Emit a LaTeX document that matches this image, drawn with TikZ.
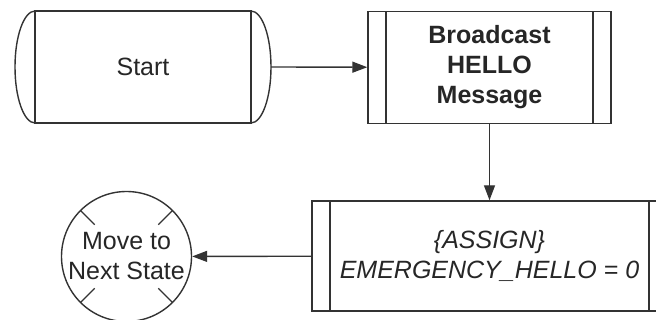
\documentclass[tikz,border=0pt]{standalone}
\usepackage{fontspec}
\setmainfont{Liberation Sans}
\usetikzlibrary{arrows.meta}

\tikzstyle{outline} = [draw=black!80, line width=1.4pt]
\tikzstyle{terminal} = [rectangle, outline, outer sep=0pt, minimum width=216pt, minimum height=112pt, text centered, text=black!85, font=\fontsize{25}{30}\selectfont]
\tikzstyle{process} = [rectangle, outline, minimum height=112pt, align=center, text=black!85, font=\fontsize{25}{30}\selectfont,
	path picture={\draw[outline] ([xshift=18pt]path picture bounding box.north west) -- ([xshift=18pt]path picture bounding box.south west)
		([xshift=-18pt]path picture bounding box.north east) -- ([xshift=-18pt]path picture bounding box.south east);}]
\tikzstyle{connector} = [circle, outline, minimum size=130pt, inner sep=0pt, align=center, text=black!85, font=\fontsize{25}{30}\selectfont,
	path picture={\foreach \a in {45,135,225,315} \draw[outline] (path picture bounding box.center) ++(\a:45pt) -- ++(\a:25pt);}]
\tikzstyle{arrow} = [outline, -{Triangle[length=15pt,width=11pt]}]

\begin{document}
\begin{tikzpicture}[x=1pt, y=1pt]
		\useasboundingbox (0,0) rectangle (656,320);
		\clip (0,0) rectangle (656,320);
		% Nodes
		\node (start) [terminal] at (143,253) {Start};
		\node (broadcast) [process, minimum width=243pt, font=\fontsize{25}{30}\selectfont\bfseries] at (489.5,252.5) {Broadcast\\HELLO\\Message};
		\node (assign) [process, minimum width=355pt, minimum height=110pt, font=\fontsize{25}{30}\selectfont\itshape] at (489.5,64) {\{ASSIGN\}\\EMERGENCY\_HELLO = 0};
		\node (move) [connector] at (126.5,63.5) {Move to\\Next State};
		% Terminal ends
		\draw [outline] (start.north west) arc[start angle=90, end angle=270, x radius=20pt, y radius=56pt];
		\draw [outline] (start.north east) arc[start angle=90, end angle=-90, x radius=20pt, y radius=56pt];
		% Arrows
		\draw [arrow] ([xshift=20pt]start.east) -- (broadcast);
		\draw [arrow] (broadcast) -- (assign);
		\draw [arrow] (assign) -- (move);
	\end{tikzpicture}
\end{document}
